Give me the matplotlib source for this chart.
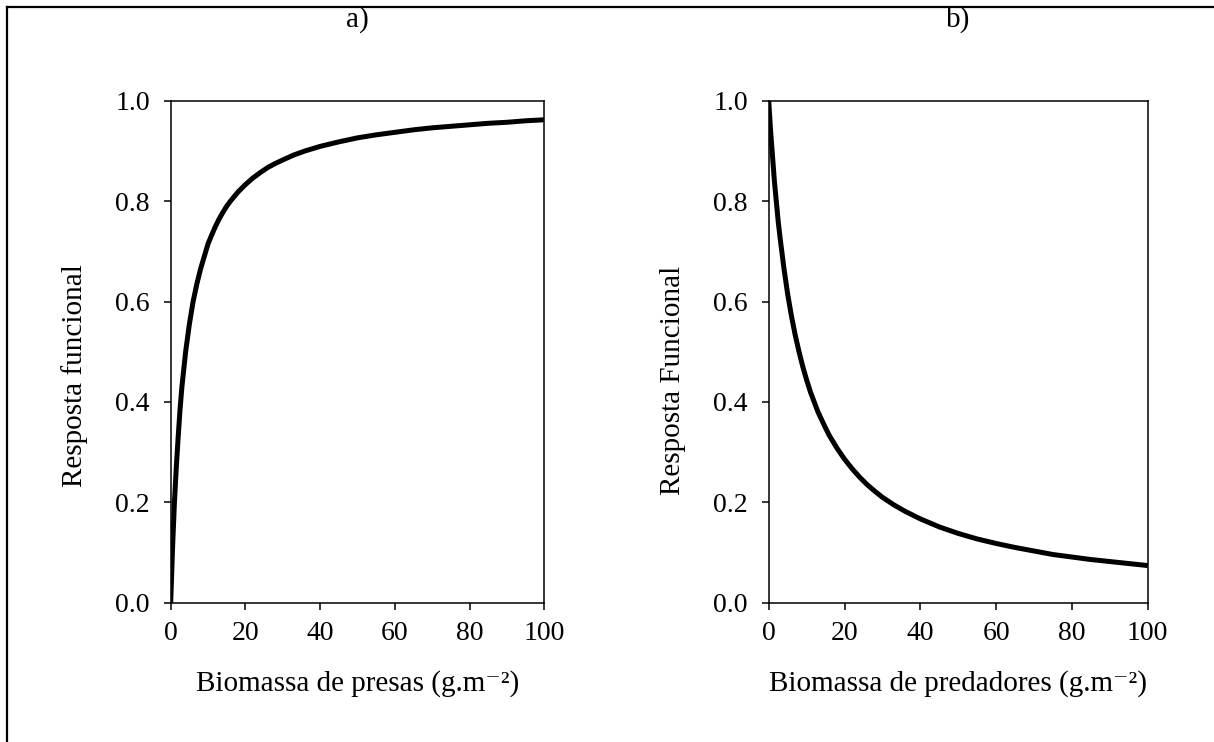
import matplotlib
matplotlib.use('Agg')
import matplotlib.pyplot as plt
from matplotlib.lines import Line2D

plt.rcParams['font.family'] = ['Liberation Serif', 'DejaVu Serif']

# values
presas = [0, 0.5, 1, 1.5, 2, 2.5, 3, 4, 5, 6, 7, 8, 9, 10, 11, 12, 13, 14, 15, 16,
          18, 20, 22, 24, 26, 28, 30, 33, 36, 40, 45, 50, 55, 60, 65, 70, 75, 80,
          85, 90, 95, 100]
resp_a = [0, 0.11, 0.20, 0.27, 0.33, 0.385, 0.43, 0.50, 0.555, 0.60, 0.635, 0.665,
          0.69, 0.715, 0.733, 0.75, 0.765, 0.778, 0.79, 0.80, 0.818, 0.833, 0.846,
          0.857, 0.867, 0.875, 0.882, 0.892, 0.90, 0.909, 0.918, 0.926, 0.932,
          0.937, 0.942, 0.946, 0.949, 0.952, 0.955, 0.957, 0.96, 0.962]

predadores = [0, 0.5, 1, 1.5, 2, 2.5, 3, 4, 5, 6, 7, 8, 9, 10, 11, 12, 13, 14, 15,
              16, 18, 20, 22, 24, 26, 28, 30, 33, 36, 40, 45, 50, 55, 60, 65, 70,
              75, 80, 85, 90, 95, 100]
resp_b = [1.0, 0.94, 0.89, 0.84, 0.80, 0.76, 0.727, 0.667, 0.615, 0.571, 0.533,
          0.50, 0.47, 0.444, 0.42, 0.40, 0.38, 0.364, 0.348, 0.333, 0.308, 0.286,
          0.267, 0.25, 0.235, 0.222, 0.21, 0.195, 0.182, 0.167, 0.151, 0.138,
          0.127, 0.118, 0.11, 0.103, 0.096, 0.091, 0.086, 0.082, 0.078, 0.074]

xticks = [0, 20, 40, 60, 80, 100]
yticks = [0.0, 0.2, 0.4, 0.6, 0.8, 1.0]

W, H = 1214, 742
fig = plt.figure(figsize=(W / 100, H / 100), dpi=100)
fs = 20
lfs = 21

def setup(ax):
    ax.set_xlim(0, 100)
    ax.set_ylim(0, 1)
    ax.set_xticks(xticks)
    ax.set_yticks(yticks)
    ax.set_yticklabels(['%.1f' % v for v in yticks])
    ax.tick_params(direction='out', length=5, width=1.1, labelsize=fs)
    ax.tick_params(axis='y', pad=10)
    ax.tick_params(axis='x', pad=8)
    for s in ax.spines.values():
        s.set_linewidth(1.1)

top, bot = 100.7, 602.7
ax1 = fig.add_axes([170.7 / W, 1 - bot / H, (544.3 - 170.7) / W, (bot - top) / H])
ax1.plot(presas, resp_a, color='black', lw=3.6, solid_capstyle='butt')
setup(ax1)

ax2 = fig.add_axes([768.7 / W, 1 - bot / H, (1147.7 - 768.7) / W, (bot - top) / H])
ax2.plot(predadores, resp_b, color='black', lw=3.6, solid_capstyle='butt')
setup(ax2)

fig.text(357.5 / W, 1 - 684 / H, 'Biomassa de presas (g.m⁻²)', ha='center', va='center', fontsize=lfs)
fig.text(958 / W, 1 - 684 / H, 'Biomassa de predadores (g.m⁻²)', ha='center', va='center', fontsize=lfs)
fig.text(75 / W, 1 - 376 / H, 'Resposta funcional', ha='center', va='center', rotation=90, fontsize=lfs)
fig.text(673 / W, 1 - 380 / H, 'Resposta Funcional', ha='center', va='center', rotation=90, fontsize=lfs)

fig.text(357.5 / W, 1 - 20 / H, 'a)', ha='center', va='center', fontsize=lfs)
fig.text(958 / W, 1 - 20 / H, 'b)', ha='center', va='center', fontsize=lfs)

# outer frame (top and left only visible)
fig.add_artist(Line2D([7 / W, 7 / W], [0, 1 - 7 / H], color='black', lw=1.6))
fig.add_artist(Line2D([7 / W, 1], [1 - 7 / H, 1 - 7 / H], color='black', lw=1.6))

fig.savefig('out.png', dpi=100)
